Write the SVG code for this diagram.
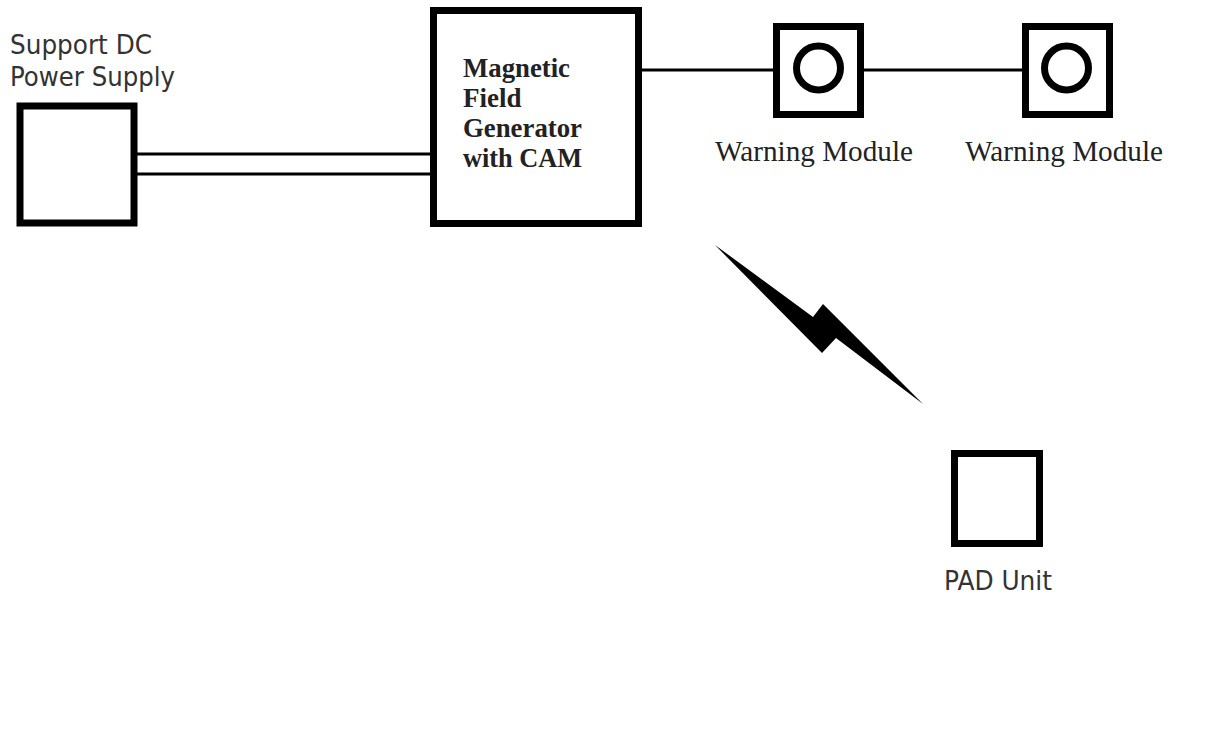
<svg xmlns="http://www.w3.org/2000/svg" width="1212" height="752" viewBox="0 0 1212 752">
<style>
.box{fill:#fff;stroke:#000;stroke-width:7}
.wire{stroke:#000;stroke-width:3;fill:none}
.sans{font-family:"DejaVu Sans","Open Sans",sans-serif;font-size:26px;fill:#333}
.serif{font-family:"Liberation Serif","Times New Roman",serif;fill:#222}
.bold{font-size:27px;font-weight:bold}
.reg{font-size:29px}
</style>
<rect width="1212" height="752" fill="#fff"/>
<g id="connectors">
<line class="wire" x1="136" y1="154" x2="432" y2="154"/>
<line class="wire" x1="129" y1="174" x2="432" y2="174"/>
<line class="wire" x1="640" y1="70" x2="775" y2="70"/>
<line class="wire" x1="862" y1="70" x2="1024" y2="70"/>
<polygon id="wireless" points="715,245 813,317 823,304 923,404 836,338 822,353" fill="#000"/>
</g>
<g id="power-supply">
<rect class="box" x="20" y="106" width="114" height="117" stroke-width="8"/>
<text class="sans" x="10" y="54" textLength="142" lengthAdjust="spacingAndGlyphs">Support DC</text>
<text class="sans" x="10" y="86" textLength="165" lengthAdjust="spacingAndGlyphs">Power Supply</text>
</g>
<g id="magnetic-field-generator">
<rect class="box" x="433.5" y="10.5" width="205" height="213"/>
<text class="serif bold" x="463" y="77" textLength="107" lengthAdjust="spacingAndGlyphs">Magnetic</text>
<text class="serif bold" x="463" y="107">Field</text>
<text class="serif bold" x="463" y="137" textLength="119" lengthAdjust="spacingAndGlyphs">Generator</text>
<text class="serif bold" x="463" y="167" textLength="119" lengthAdjust="spacingAndGlyphs">with CAM</text>
</g>
<g id="warning-module-1">
<rect class="box" x="776.5" y="26.5" width="84" height="88"/>
<circle cx="818.5" cy="68" r="22" fill="none" stroke="#000" stroke-width="7"/>
<text class="serif reg" x="715" y="161" textLength="198" lengthAdjust="spacingAndGlyphs">Warning Module</text>
</g>
<g id="warning-module-2">
<rect class="box" x="1025.5" y="26.5" width="84" height="88"/>
<circle cx="1066.5" cy="68" r="22" fill="none" stroke="#000" stroke-width="7"/>
<text class="serif reg" x="965" y="161" textLength="198" lengthAdjust="spacingAndGlyphs">Warning Module</text>
</g>
<g id="pad-unit">
<rect class="box" x="954.5" y="453.5" width="85" height="90"/>
<text class="sans" x="944" y="590" textLength="108" lengthAdjust="spacingAndGlyphs">PAD Unit</text>
</g>
</svg>
